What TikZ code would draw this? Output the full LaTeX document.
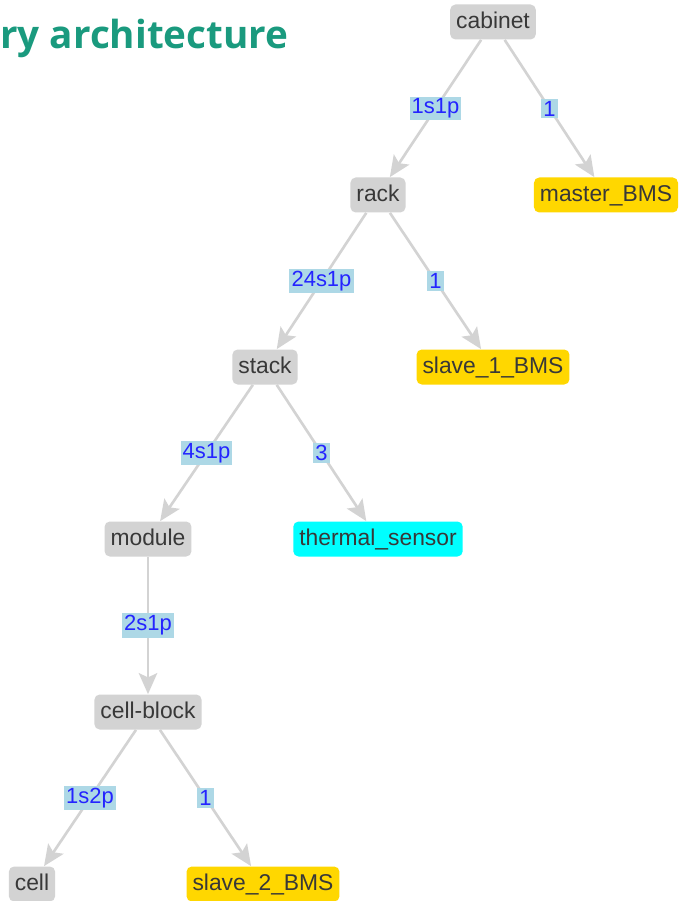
\documentclass[tikz,border=0pt]{standalone}
\usepackage{fontspec}
\setmainfont{Liberation Sans}
\newfontfamily\headfont{Open Sans}
\usetikzlibrary{arrows.meta}

\definecolor{headteal}{HTML}{1A9A7E}
\definecolor{partgray}{HTML}{D3D3D3}
\definecolor{bmsgold}{HTML}{FFD700}
\definecolor{sensorcyan}{HTML}{00FFFF}
\definecolor{qtyback}{HTML}{ADD8E6}
\definecolor{qtyblue}{HTML}{2424FF}

\tikzset{
  part/.style={rounded corners=3pt,fill=partgray,text=black!78,
    font=\fontsize{13}{15}\selectfont,minimum height=0.7cm,
    inner xsep=0.12cm,inner ysep=0pt,text height=9.5pt,text depth=2.5pt},
  bms/.style={part,fill=bmsgold},
  sensor/.style={part,fill=sensorcyan},
  link/.style={draw=partgray,line width=1.5pt,
    -{Stealth[length=12pt,width=10.5pt,inset=2.5pt]}},
  qty/.style={fill=qtyback,text=qtyblue,inner sep=1.2pt,
    font=\fontsize{12.5}{14}\selectfont}
}

\begin{document}
\begin{tikzpicture}
\useasboundingbox (0,0) rectangle (13.56,-18.02);

\node[anchor=base west,inner sep=0pt,text=headteal,
  font=\headfont\bfseries\fontsize{22}{26}\selectfont] (head) at (0,-0.98) {ry architecture};

% tree of parts
\node[part] (cabinet) at (9.86,-0.44) {cabinet};
\node[part] (rack) at (7.56,-3.90) {rack};
\node[bms] (master) at (12.12,-3.90) {master\_BMS};
\node[part] (stack) at (5.30,-7.34) {stack};
\node[bms] (slaveA) at (9.86,-7.34) {slave\_1\_BMS};
\node[part] (module) at (2.96,-10.78) {module};
\node[sensor] (thermal) at (7.56,-10.78) {thermal\_sensor};
\node[part] (block) at (2.96,-14.24) {cell-block};
\node[part] (cell) at (0.64,-17.68) {cell};
\node[bms] (slaveB) at (5.26,-17.68) {slave\_2\_BMS};

\draw[link] (cabinet) -- node[qty] {1s1p} (rack);
\draw[link] (cabinet) -- node[qty] {1} (master);
\draw[link] (rack) -- node[qty] {24s1p} (stack);
\draw[link] (rack) -- node[qty] {1} (slaveA);
\draw[link] (stack) -- node[qty] {4s1p} (module);
\draw[link] (stack) -- node[qty] {3} (thermal);
\draw[link] (module) -- node[qty] {2s1p} (block);
\draw[link] (block) -- node[qty] {1s2p} (cell);
\draw[link] (block) -- node[qty] {1} (slaveB);
\end{tikzpicture}
\end{document}
